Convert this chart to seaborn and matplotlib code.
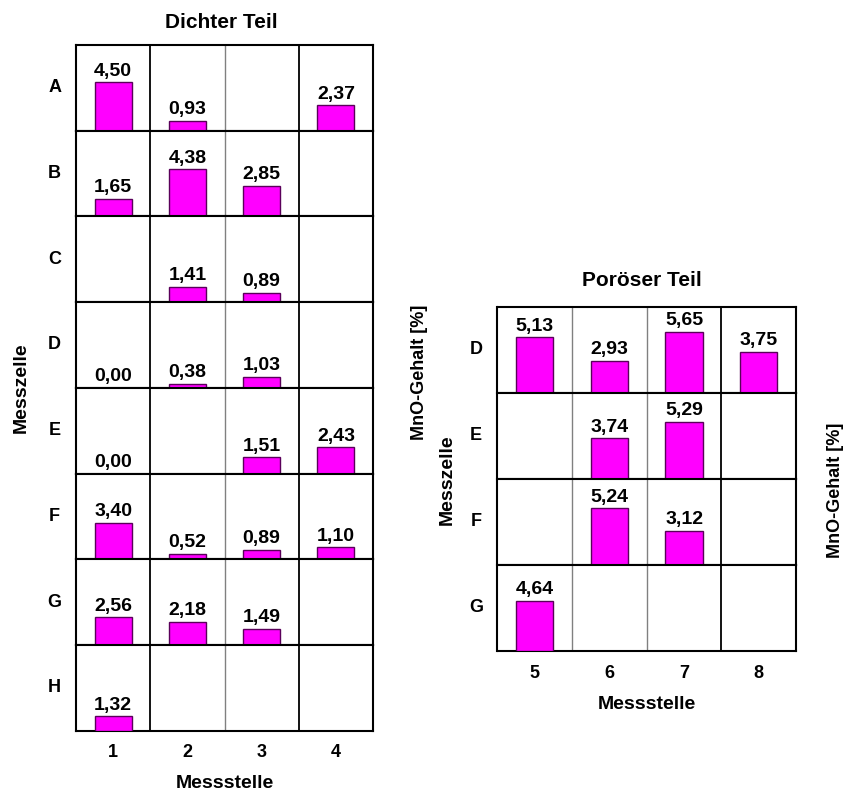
import numpy as np
import pandas as pd
import matplotlib
matplotlib.use('Agg')
import matplotlib.pyplot as plt
import seaborn as sns

sns.set_style('white')
plt.rcParams['font.family'] = ['Liberation Sans', 'DejaVu Sans']
plt.rcParams['font.weight'] = 'bold'
plt.rcParams['text.color'] = 'black'
plt.rcParams['axes.labelcolor'] = 'black'
plt.rcParams['xtick.color'] = 'black'
plt.rcParams['ytick.color'] = 'black'

# ---- data (MnO-Gehalt in %, NaN = no measurement) ----
dense_rows = ['A', 'B', 'C', 'D', 'E', 'F', 'G', 'H']
dense_cols = ['1', '2', '3', '4']
dense_A = [4.50, 0.93, np.nan, 2.37]
dense_B = [1.65, 4.38, 2.85, np.nan]
dense_C = [np.nan, 1.41, 0.89, np.nan]
dense_D = [0.00, 0.38, 1.03, np.nan]
dense_E = [0.00, np.nan, 1.51, 2.43]
dense_F = [3.40, 0.52, 0.89, 1.10]
dense_G = [2.56, 2.18, 1.49, np.nan]
dense_H = [1.32, np.nan, np.nan, np.nan]

porous_rows = ['D', 'E', 'F', 'G']
porous_cols = ['5', '6', '7', '8']
porous_D = [5.13, 2.93, 5.65, 3.75]
porous_E = [np.nan, 3.74, 5.29, np.nan]
porous_F = [np.nan, 5.24, 3.12, np.nan]
porous_G = [4.64, np.nan, np.nan, np.nan]

dense_vals = [dense_A, dense_B, dense_C, dense_D, dense_E, dense_F, dense_G, dense_H]
porous_vals = [porous_D, porous_E, porous_F, porous_G]

W, H = 849, 796
fig = plt.figure(figsize=(W / 100, H / 100), dpi=100)
fig.patch.set_facecolor('white')

BAR = '#ff00ff'
EDGE = '#5a005a'


def draw_panel(rows, cols, vals, left, top, width, row_h, divider_colors):
    axes = []
    for i, (rname, rv) in enumerate(zip(rows, vals)):
        bottom = H - (top + (i + 1) * row_h)
        ax = fig.add_axes([left / W, bottom / H, width / W, row_h / H])
        df = pd.DataFrame({'Messstelle': cols, 'MnO': rv}).dropna()
        sns.barplot(data=df, x='Messstelle', y='MnO', order=cols, color=BAR,
                    edgecolor=EDGE, linewidth=1.0, width=0.5, saturation=1,
                    ax=ax, zorder=3)
        for c in ax.containers:
            ax.bar_label(c, labels=[f'{v:.2f}'.replace('.', ',') for v in c.datavalues],
                         padding=2, fontsize=14, fontweight='bold', color='black')
        ax.set_xlim(-0.5, len(cols) - 0.5)
        ax.set_ylim(0, 8.0)
        for k, col in enumerate(divider_colors):
            ax.axvline(k + 0.5, color=col, lw=1.3 if col == 'black' else 1.0, zorder=2)
        for s in ax.spines.values():
            s.set_color('black')
            s.set_linewidth(1.5)
        ax.set_yticks([])
        ax.set_ylabel('')
        ax.text(-0.072, 0.5, rname, transform=ax.transAxes, ha='center',
                va='center', fontsize=13, fontweight='bold')
        ax.tick_params(axis='x', length=0, pad=10, labelsize=13)
        if i < len(rows) - 1:
            ax.set_xticklabels([])
            ax.set_xlabel('')
        else:
            ax.set_xlabel('Messstelle', fontsize=14, fontweight='bold', labelpad=10)
        axes.append(ax)
    return axes


draw_panel(dense_rows, dense_cols, dense_vals, left=76, top=45, width=297,
           row_h=85.7, divider_colors=['black', 'grey', 'black'])
draw_panel(porous_rows, porous_cols, porous_vals, left=497.5, top=306.5, width=298.5,
           row_h=86.1, divider_colors=['grey', 'grey', 'black'])

fig.text(221 / W, 1 - 23 / H, 'Dichter Teil', ha='center', va='center',
         fontsize=15, fontweight='bold')
fig.text(642 / W, 1 - 280 / H, 'Poröser Teil', ha='center', va='center',
         fontsize=15, fontweight='bold')

fig.text(21 / W, 1 - 388 / H, 'Messzelle', rotation=90, ha='center', va='center',
         fontsize=14, fontweight='bold')
fig.text(419 / W, 1 - 372 / H, 'MnO-Gehalt [%]', rotation=90, ha='center', va='center',
         fontsize=13, fontweight='bold')
fig.text(447 / W, 1 - 480 / H, 'Messzelle', rotation=90, ha='center', va='center',
         fontsize=14, fontweight='bold')
fig.text(835 / W, 1 - 490 / H, 'MnO-Gehalt [%]', rotation=90, ha='center', va='center',
         fontsize=13, fontweight='bold')

fig.savefig('out.png', dpi=100, facecolor='white')
